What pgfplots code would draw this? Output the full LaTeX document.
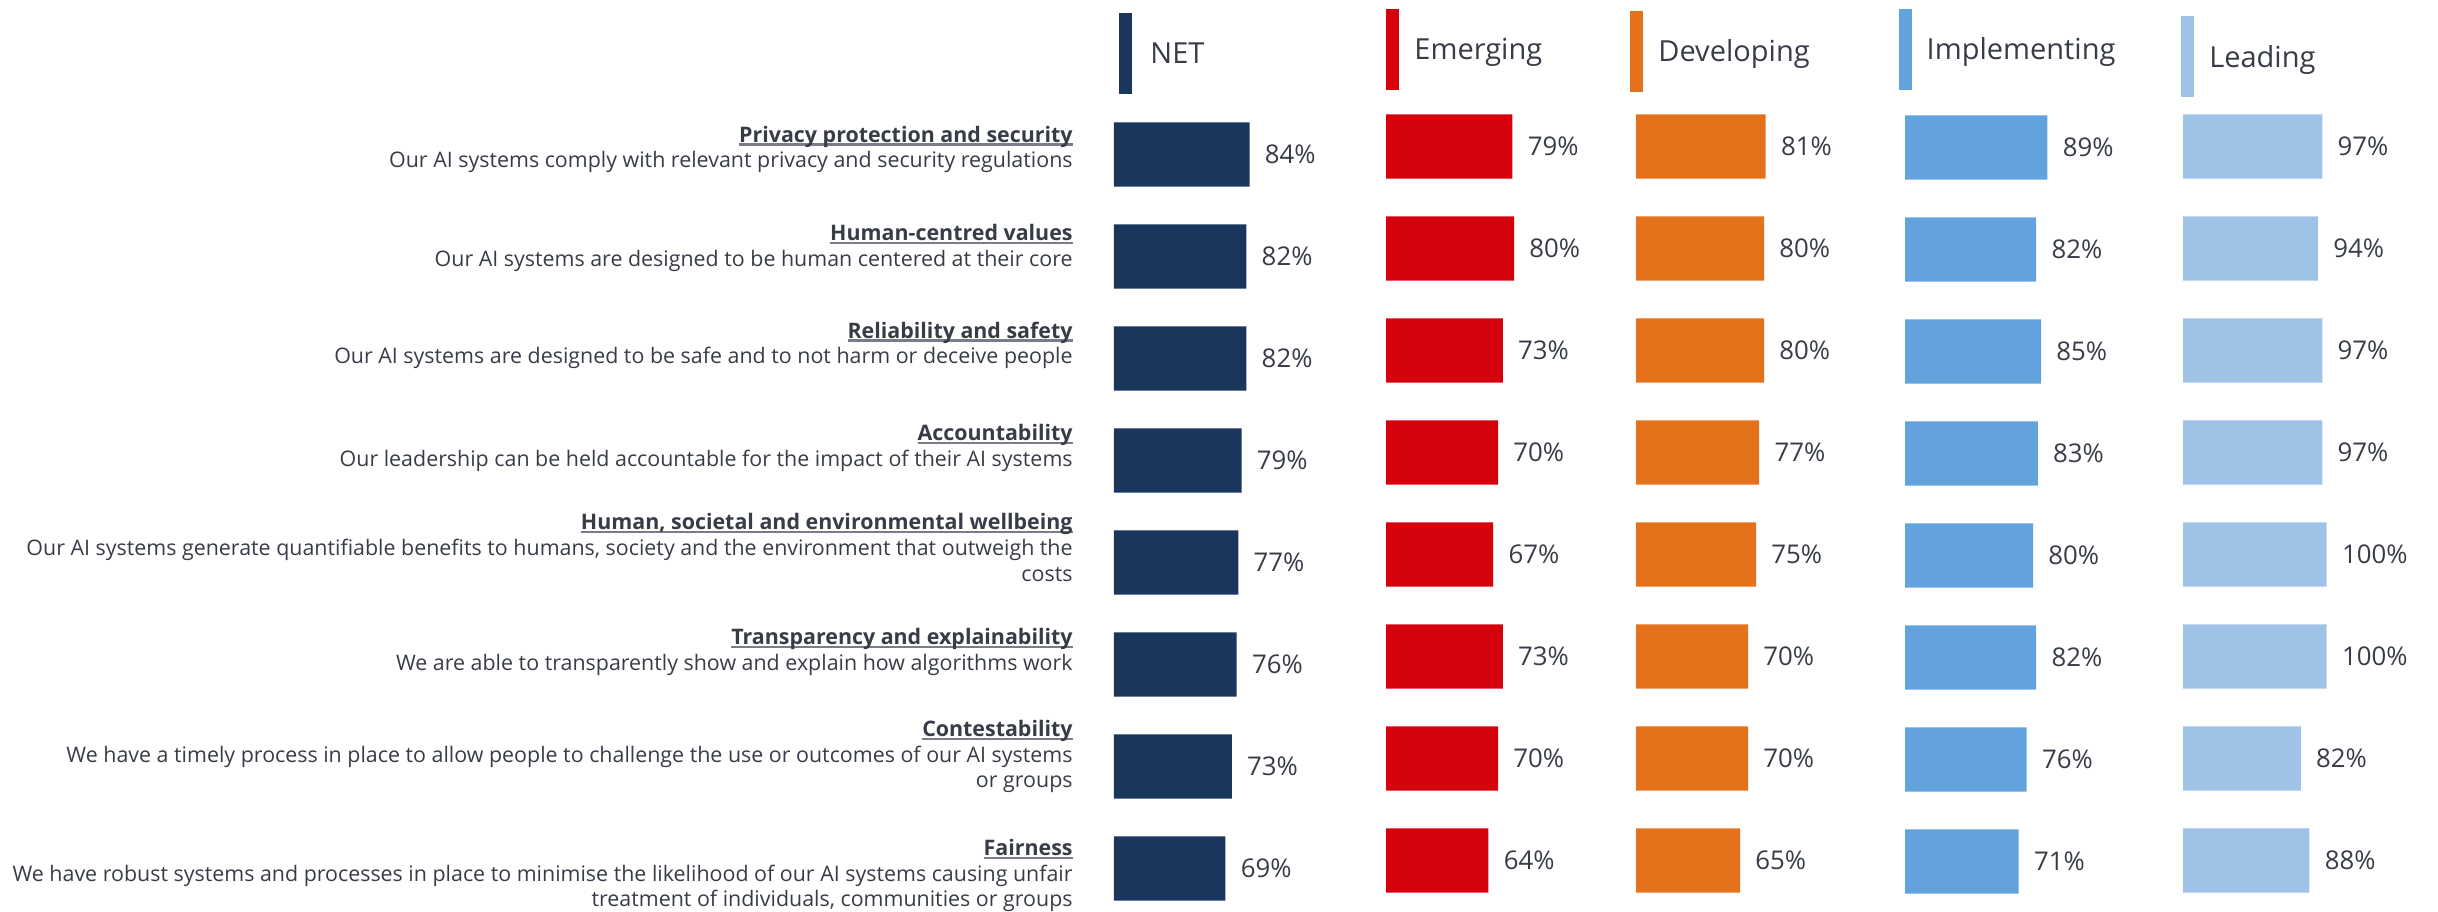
\documentclass[border=0pt]{standalone}
\usepackage{fontspec}
\setmainfont{Open Sans}
\usepackage{pgfplots}
\pgfplotsset{compat=1.18}

\definecolor{netc}{RGB}{26,54,93}
\definecolor{emec}{RGB}{213,2,14}
\definecolor{devc}{RGB}{228,114,26}
\definecolor{impc}{RGB}{98,163,222}
\definecolor{leac}{RGB}{159,195,231}
\definecolor{textc}{RGB}{55,60,70}
\definecolor{ulc}{RGB}{120,125,135}

% underlined bold title line
\newsavebox\ttlbox
\newcommand{\ttl}[1]{\sbox\ttlbox{\bfseries #1}\rlap{\color{ulc}\rule[-1.7pt]{\wd\ttlbox}{1.2pt}}\usebox\ttlbox}
% statement label: raise, lines
\newcommand{\lbl}[2]{\raisebox{#1}{\begin{tabular}{@{}r@{}}#2\end{tabular}}}

\pgfplotsset{
  panel/.style={
    xbar, bar width=32.2pt, bar shift=0pt,
    scale only axis, height=408pt,
    xmin=0, xmax=100, ymin=0.5, ymax=8.5, y dir=reverse,
    clip=false,
    point meta=x,
    nodes near coords={\pgfmathprintnumber[assume math mode=true]{\pgfplotspointmeta}\%},
    every node near coord/.append style={anchor=west, inner sep=0pt, xshift=7.5pt,
      font=\fontsize{12.9}{14}\selectfont, text=textc},
    legend style={draw=none, fill=none, inner sep=0pt, column sep=7.5pt,
      nodes={inner sep=0pt, text height=10.4pt, text depth=0pt,
        font=\fontsize{14.5}{16}\selectfont, text=textc}},
    legend cell align=left,
  },
  hdr/.style={legend image code/.code={\fill[#1] (0pt,-20.25pt) rectangle (6.5pt,20.25pt);}},
}

\begin{document}
\begin{tikzpicture}
\path[use as bounding box] (0pt,0pt) rectangle (1219pt,-455.5pt);

% NET, with the statement labels
\begin{axis}[panel, at={(557pt,-51.75pt)}, anchor=north west, width=80.7pt,
  hide x axis, axis line style={draw=none}, major tick length=0pt,
  ytick={1,...,8},
  yticklabels={
    {\lbl{-0.5pt}{\ttl{Privacy protection and security}\\Our AI systems comply with relevant privacy and security regulations}},
    {\lbl{1.2pt}{\ttl{Human-centred values}\\Our AI systems are designed to be human centered at their core}},
    {\lbl{3.5pt}{\ttl{Reliability and safety}\\Our AI systems are designed to be safe and to not harm or deceive people}},
    {\lbl{3.4pt}{\ttl{Accountability}\\Our leadership can be held accountable for the impact of their AI systems}},
    {\lbl{3.3pt}{\ttl{Human, societal and environmental wellbeing}\\Our AI systems generate quantifiable benefits to humans, society and the environment that outweigh the\\costs}},
    {\lbl{3.2pt}{\ttl{Transparency and explainability}\\We are able to transparently show and explain how algorithms work}},
    {\lbl{2.0pt}{\ttl{Contestability}\\We have a timely process in place to allow people to challenge the use or outcomes of our AI systems\\or groups}},
    {\lbl{-6.5pt}{\ttl{Fairness}\\We have robust systems and processes in place to minimise the likelihood of our AI systems causing unfair\\treatment of individuals, communities or groups}}},
  yticklabel style={anchor=base east, inner sep=0pt, xshift=-20.5pt,
    font=\fontsize{10.7}{12.8}\selectfont, text=textc},
  hdr=netc,
  legend style={at={(axis cs:3.1,0.01)}, anchor=west, column sep=9pt},
]
\addplot[fill=netc, draw=none] coordinates {(84,1) (82,2) (82,3) (79,4) (77,5) (76,6) (73,7) (69,8)};
\addlegendentry{NET}
\end{axis}

% Emerging
\begin{axis}[panel, at={(693pt,-47.75pt)}, anchor=north west, width=80pt, hide axis,
  hdr=emec, legend style={at={(axis cs:0,0.049)}, anchor=west}]
\addplot[fill=emec, draw=none] coordinates {(79,1) (80,2) (73,3) (70,4) (67,5) (73,6) (70,7) (64,8)};
\addlegendentry{Emerging}
\end{axis}

% Developing
\begin{axis}[panel, at={(818pt,-47.75pt)}, anchor=north west, width=80pt, hide axis,
  hdr=devc, legend style={at={(axis cs:-3.75,0.069)}, anchor=west}]
\addplot[fill=devc, draw=none] coordinates {(81,1) (80,2) (80,3) (77,4) (75,5) (70,6) (70,7) (65,8)};
\addlegendentry{Developing}
\end{axis}

% Implementing
\begin{axis}[panel, at={(952.5pt,-48.25pt)}, anchor=north west, width=80pt, hide axis,
  hdr=impc, legend style={at={(axis cs:-4.2,0.039)}, anchor=west}]
\addplot[fill=impc, draw=none] coordinates {(89,1) (82,2) (85,3) (83,4) (80,5) (82,6) (76,7) (71,8)};
\addlegendentry{Implementing}
\end{axis}

% Leading
\begin{axis}[panel, at={(1091.5pt,-47.75pt)}, anchor=north west, width=71.8pt, hide axis,
  hdr=leac, legend style={at={(axis cs:-1.5,0.121)}, anchor=west}]
\addplot[fill=leac, draw=none] coordinates {(97,1) (94,2) (97,3) (97,4) (100,5) (100,6) (82,7) (88,8)};
\addlegendentry{Leading}
\end{axis}
\end{tikzpicture}
\end{document}
